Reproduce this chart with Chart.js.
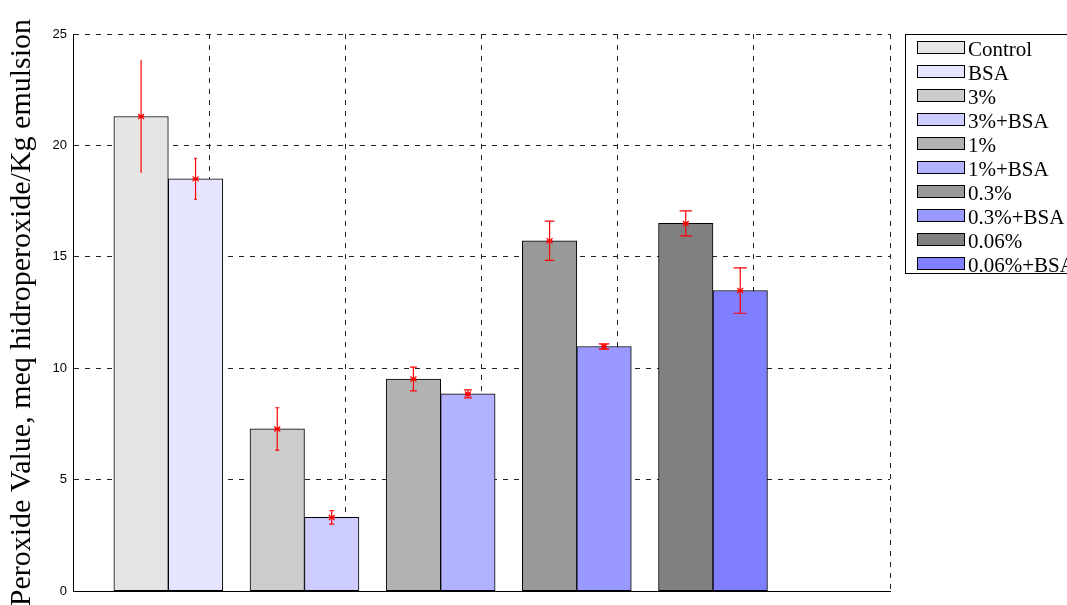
<!DOCTYPE html>
<html>
<head>
<meta charset="utf-8">
<script src="https://cdn.jsdelivr.net/npm/chart.js@4"></script>
<style>
  html, body { margin: 0; padding: 0; background: #fff; }
  #wrap { width: 1067px; height: 605px; }
</style>
</head>
<body>
<div id="wrap"><canvas id="pvChart"></canvas></div>
<script>
const groups = ["Control", "3%", "1%", "0.3%", "0.06%"];
const bsaLabels = ["BSA", "3%+BSA", "1%+BSA", "0.3%+BSA", "0.06%+BSA"];
const plainValues = [21.3, 7.28, 9.52, 15.72, 16.5];
const plainErrors = [2.5, 0.95, 0.53, 0.88, 0.56];
const bsaValues = [18.5, 3.31, 8.85, 10.98, 13.49];
const bsaErrors = [0.92, 0.3, 0.18, 0.12, 1.02];
const yTicks = [0, 5, 10, 15, 20, 25];

// grey shades for the plain series, blue shades for +BSA
const greyColors = ["#e5e5e5", "#cccccc", "#b2b2b2", "#999999", "#808080"];
const blueColors = ["#e5e5ff", "#ccccff", "#b2b2ff", "#9999ff", "#8080ff"];

const datasets = [];
groups.forEach((g, i) => {
  datasets.push({
    label: g,
    data: [{ x: i + 0.5, y: plainValues[i] }],
    err: plainErrors[i],
    backgroundColor: greyColors[i]
  });
  datasets.push({
    label: bsaLabels[i],
    data: [{ x: i + 0.9, y: bsaValues[i] }],
    err: bsaErrors[i],
    backgroundColor: blueColors[i]
  });
});
datasets.forEach(ds => {
  ds.borderColor = "#000";
  ds.borderWidth = 1;
  ds.borderSkipped = false;
  ds.grouped = false;
  ds.barPercentage = 1;
  ds.categoryPercentage = 1;
});

// red error bars with caps and a star marker
const errorBars = {
  id: "errorBars",
  afterDatasetsDraw(chart) {
    const { ctx, scales: { x, y } } = chart;
    ctx.save();
    ctx.strokeStyle = "#ff0000";
    ctx.lineWidth = 1.2;
    chart.data.datasets.forEach(ds => {
      const p = ds.data[0];
      const cx = x.getPixelForValue(p.x);
      const tee = x.getPixelForValue(p.x * 1.01) - cx;
      const yTop = y.getPixelForValue(p.y + ds.err);
      const yBot = y.getPixelForValue(p.y - ds.err);
      const yc = y.getPixelForValue(p.y);
      ctx.beginPath();
      ctx.moveTo(cx, yTop); ctx.lineTo(cx, yBot);
      ctx.moveTo(cx - tee, yTop); ctx.lineTo(cx + tee, yTop);
      ctx.moveTo(cx - tee, yBot); ctx.lineTo(cx + tee, yBot);
      ctx.moveTo(cx - 3, yc - 2.5); ctx.lineTo(cx + 3, yc + 2.5);
      ctx.moveTo(cx - 3, yc + 2.5); ctx.lineTo(cx + 3, yc - 2.5);
      ctx.moveTo(cx - 3, yc); ctx.lineTo(cx + 3, yc);
      ctx.stroke();
    });
    ctx.restore();
  }
};

// boxed legend on the right
const boxLegend = {
  id: "boxLegend",
  afterDraw(chart) {
    const ctx = chart.ctx;
    const left = chart.chartArea.right + 15;
    const top = chart.chartArea.top;
    ctx.save();
    ctx.lineWidth = 1;
    ctx.strokeStyle = "#000";
    ctx.strokeRect(left + 0.5, top + 0.5, 200, 239);
    ctx.font = '21px "Liberation Serif"';
    ctx.fillStyle = "#000";
    ctx.textBaseline = "alphabetic";
    chart.data.datasets.forEach((ds, i) => {
      const sy = top + 7 + i * 24;
      ctx.fillStyle = ds.backgroundColor;
      ctx.fillRect(left + 12, sy, 48, 13);
      ctx.strokeRect(left + 12.5, sy + 0.5, 47, 12);
      ctx.fillStyle = "#000";
      ctx.fillText(ds.label, left + 63, sy + 14.5);
    });
    ctx.restore();
  }
};

new Chart(document.getElementById("pvChart"), {
  type: "bar",
  data: { datasets },
  options: {
    responsive: true,
    maintainAspectRatio: false,
    animation: false,
    layout: { padding: { top: 34, right: 177, left: 0, bottom: 0 } },
    plugins: {
      legend: { display: false },
      tooltip: { enabled: false }
    },
    scales: {
      x: {
        type: "linear",
        min: 0,
        max: 6,
        offset: false,
        ticks: { display: false, stepSize: 1 },
        grid: { color: "#222", lineWidth: 1, drawTicks: false, offset: false },
        border: { display: true, color: "#000", width: 1, dash: [5, 6] },
        afterFit: scale => { scale.height = 10; }
      },
      y: {
        min: 0,
        max: 25,
        afterBuildTicks: scale => { scale.ticks = yTicks.map(v => ({ value: v })); },
        ticks: {
          color: "#000",
          padding: 6,
          font: { family: "Liberation Sans", size: 13 }
        },
        grid: { color: "#222", lineWidth: 1, drawTicks: false },
        border: { display: true, color: "#000", width: 1, dash: [5, 6] },
        title: {
          display: true,
          text: "Peroxide Value, meq hidroperoxide/Kg emulsion",
          color: "#000",
          font: { family: "Liberation Serif", size: 30 },
          padding: { top: 4, bottom: 0 }
        },
        afterFit: scale => { scale.width = 73; }
      }
    }
  },
  plugins: [errorBars, boxLegend]
});
</script>
</body>
</html>
